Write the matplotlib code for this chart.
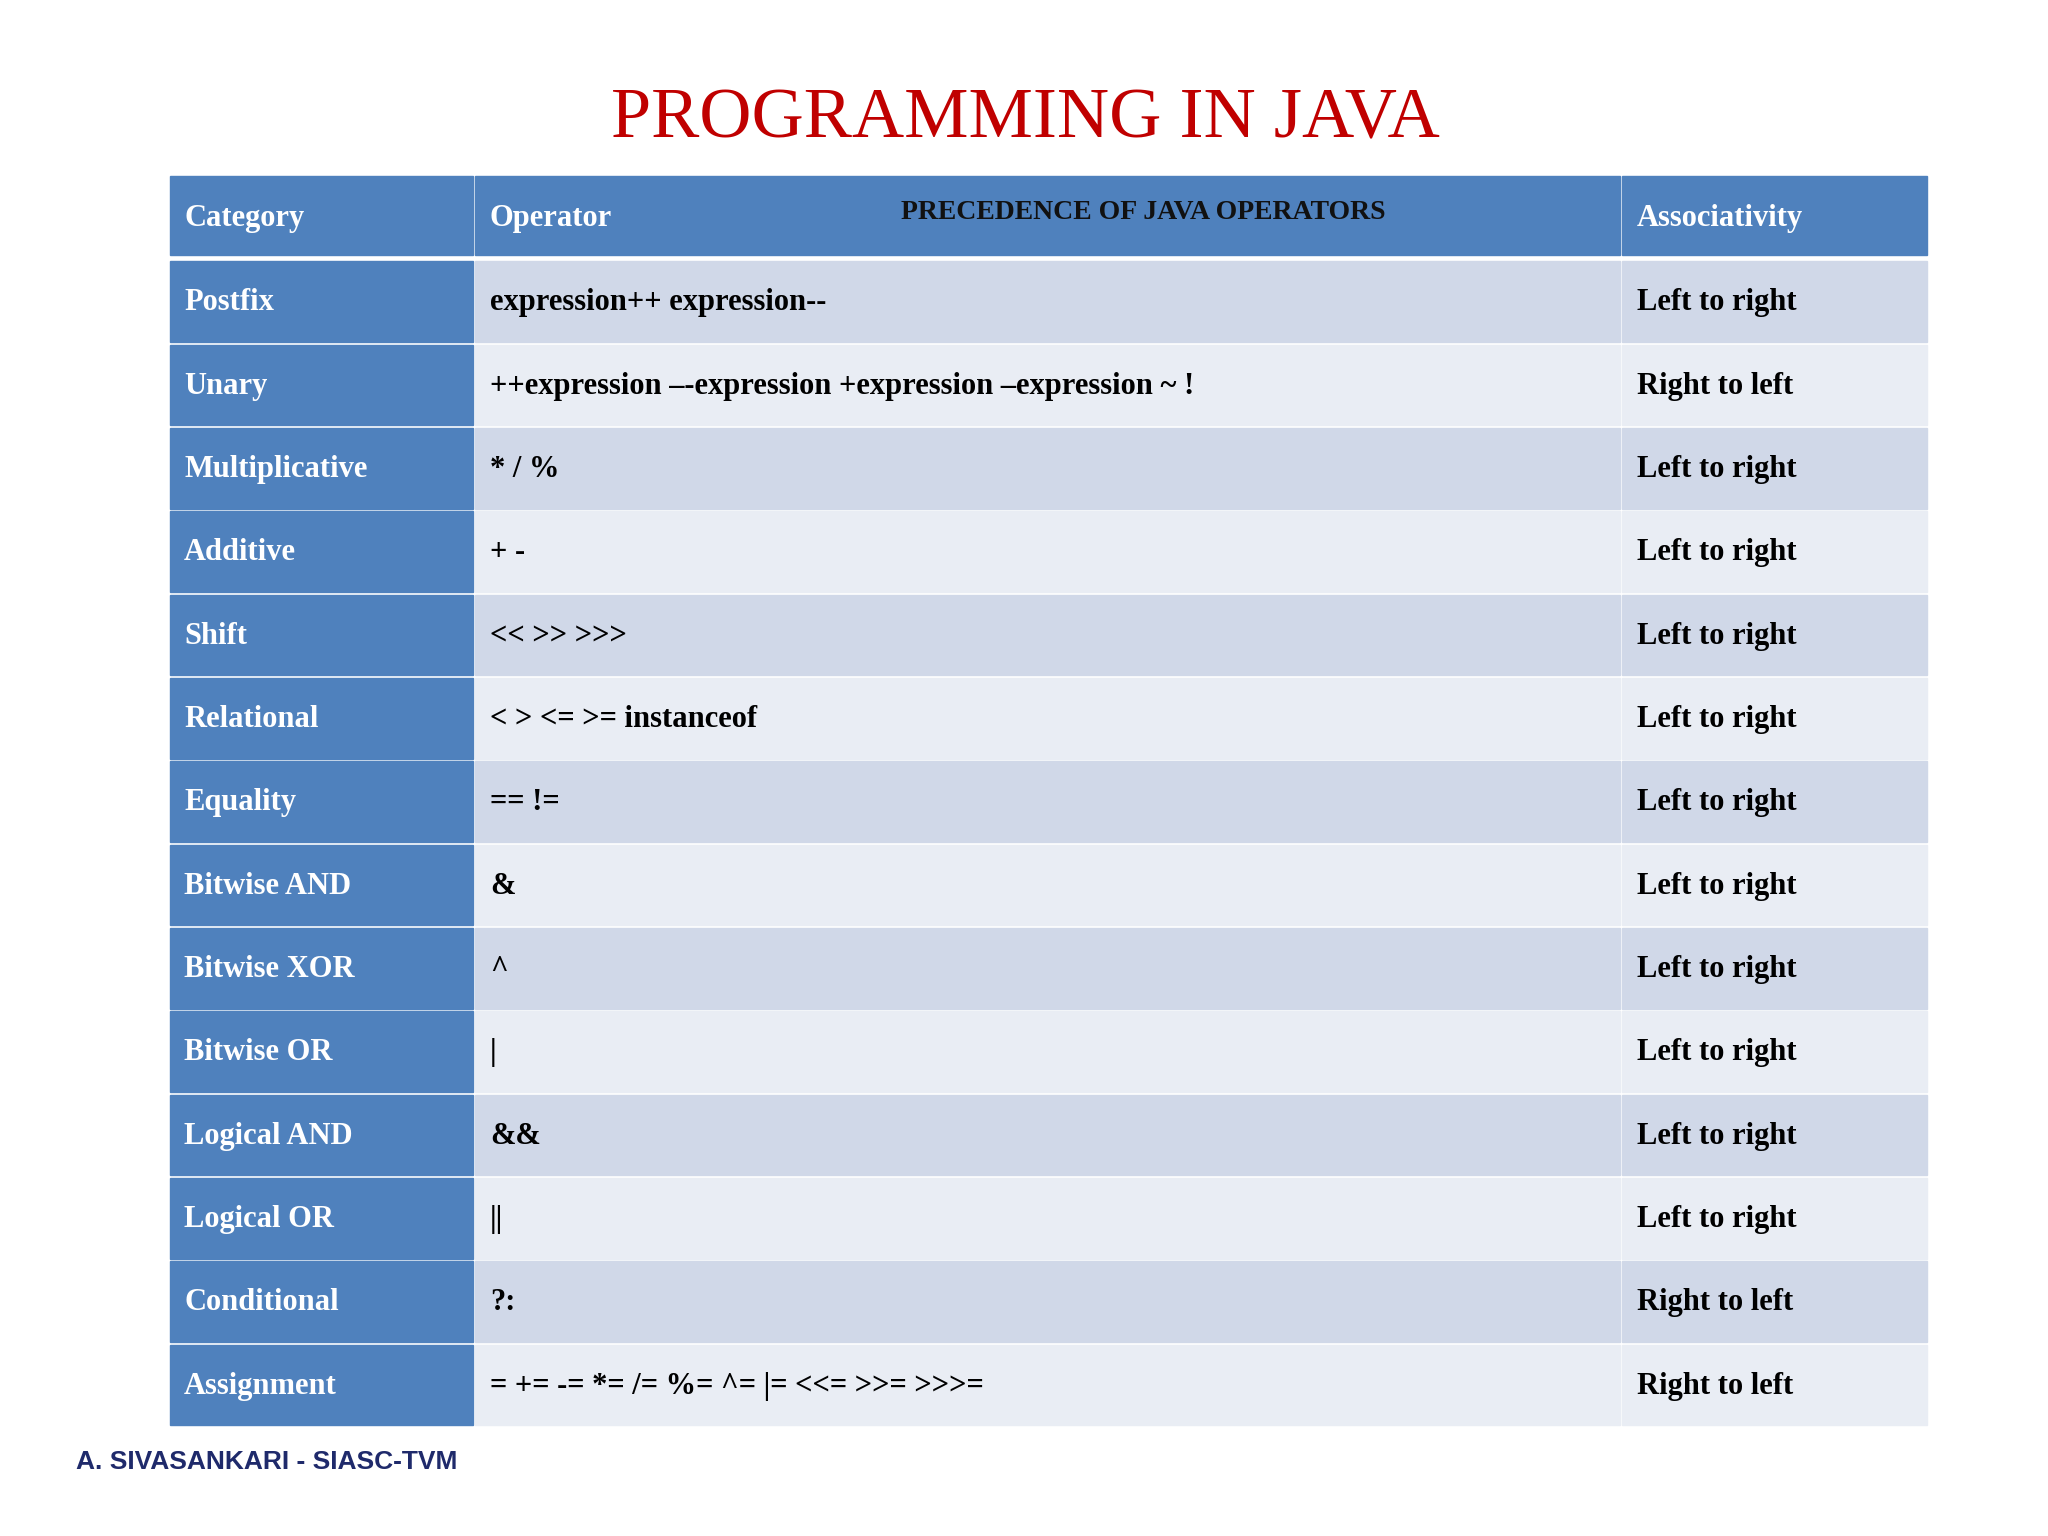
import matplotlib.pyplot as plt
from matplotlib.patches import Rectangle

categories = ["Postfix", "Unary", "Multiplicative", "Additive", "Shift", "Relational",
              "Equality", "Bitwise AND", "Bitwise XOR", "Bitwise OR", "Logical AND",
              "Logical OR", "Conditional", "Assignment"]
operators = ["expression++ expression--",
             "++expression \u2013-expression +expression \u2013expression ~ !",
             "* / %", "+ -", "<< >> >>>", "< > <= >= instanceof", "== !=", "&", "^", "|",
             "&&", "||", "?:", "= += -= *= /= %= ^= |= <<= >>= >>>="]
associativity = ["Left to right", "Right to left", "Left to right", "Left to right",
                 "Left to right", "Left to right", "Left to right", "Left to right",
                 "Left to right", "Left to right", "Left to right", "Left to right",
                 "Right to left", "Right to left"]
headers = ["Category", "Operator", "Associativity"]

W, H = 1568, 1176
fig = plt.figure(figsize=(20.48, 15.36), dpi=100)
ax = fig.add_axes([0, 0, 1, 1])
ax.set_xlim(0, W)
ax.set_ylim(H, 0)
ax.axis("off")

serif = "Liberation Serif"
blue = "#4F81BD"
row_dark, row_light = "#D0D8E8", "#E9EDF4"
cols = [(130, 362), (364, 1240), (1242, 1475)]

ax.text(785, 92, "PROGRAMMING IN JAVA", color="#C00000", fontsize=52,
        family=serif, ha="center", va="center")

# header
top, hh = 135, 60
for i, (x0, x1) in enumerate(cols):
    ax.add_patch(Rectangle((x0, top), x1 - x0, hh, color=blue))
    ax.text(x0 + 11, top + hh / 2 + 2, headers[i], color="white", fontsize=22,
            family=serif, weight="bold", va="center")
ax.text(875, 163, "PRECEDENCE OF JAVA OPERATORS", color="#111111", fontsize=20,
        family=serif, weight="bold", ha="center", va="center")

y0, rh = 200, 63.8
for r in range(len(categories)):
    y = y0 + r * rh
    bg = row_dark if r % 2 == 0 else row_light
    cells = [categories[r], operators[r], associativity[r]]
    for i, (x0, x1) in enumerate(cols):
        ax.add_patch(Rectangle((x0, y), x1 - x0, rh - 2, color=blue if i == 0 else bg))
        ax.text(x0 + 11, y + rh / 2, cells[i], color="white" if i == 0 else "black",
                fontsize=22, family=serif, weight="bold", va="center")

ax.text(58, 1119, "A. SIVASANKARI - SIASC-TVM", color="#1F2A6B", fontsize=19,
        family="Liberation Sans", weight="bold", va="center")

fig.savefig("out.png", dpi=100, facecolor="white")
